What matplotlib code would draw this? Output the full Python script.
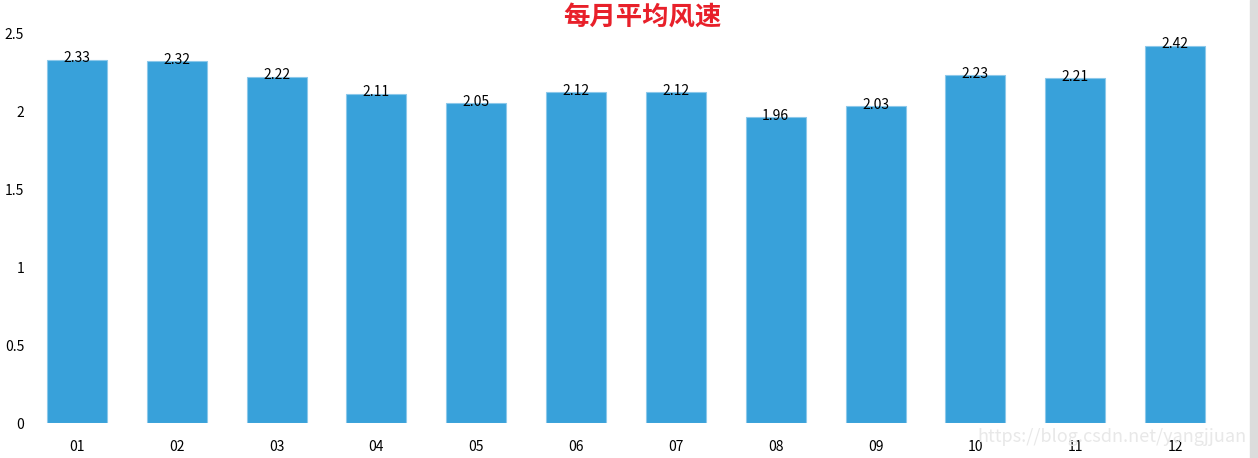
import matplotlib
matplotlib.use('Agg')
import matplotlib.pyplot as plt
from matplotlib.patches import Rectangle

plt.rcParams['font.family'] = ['Noto Sans CJK SC', 'DejaVu Sans']

months = ['01', '02', '03', '04', '05', '06', '07', '08', '09', '10', '11', '12']
speed = [2.33, 2.32, 2.22, 2.11, 2.05, 2.12, 2.12, 1.96, 2.03, 2.23, 2.21, 2.42]
yticks = [0, 0.5, 1, 1.5, 2, 2.5]
ytick_labels = ['0', '0.5', '1', '1.5', '2', '2.5']

fig = plt.figure(figsize=(12.58, 4.58), dpi=100)
ax = fig.add_axes([0.02146, 0.0764, 0.9523, 0.8515])

x = range(len(months))
ax.bar(x, speed, width=0.6, color='#38a1da', edgecolor='#8cc8ea', linewidth=0.8)
for i, v in enumerate(speed):
    ax.text(i, v - 0.035, '%.2f' % v, ha='center', va='bottom', fontsize=10, color='black')

ax.set_xlim(-0.5, len(months) - 0.5)
ax.set_ylim(0, 2.5)
ax.set_xticks(list(x))
ax.set_xticklabels(months, fontsize=10)
ax.set_yticks(yticks)
ax.set_yticklabels(ytick_labels, fontsize=10)
ax.tick_params(axis='both', length=0)
ax.tick_params(axis='x', pad=12)
ax.tick_params(axis='y', pad=2)
for s in ax.spines.values():
    s.set_visible(False)

fig.text(0.511, 0.963, '每月平均风速', ha='center', va='center', fontsize=19,
         fontweight='bold', color='#e8202a')

# watermark + scrollbar of the screenshot
fig.text(0.991, 0.045, 'https://blog.csdn.net/yangjjuan', ha='right', va='center',
         fontsize=13, color='#e8e8e8', zorder=0)
fig.patches.append(Rectangle((0.9936, 0), 0.0064, 1, transform=fig.transFigure,
                             color='#dcdcdc', zorder=0))

fig.savefig('out.png', dpi=100)
